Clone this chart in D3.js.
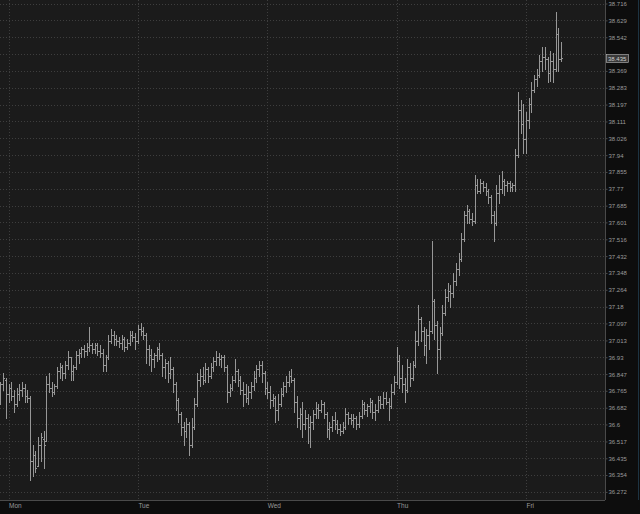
<!DOCTYPE html>
<html>
<head>
<meta charset="utf-8">
<script src="https://cdnjs.cloudflare.com/ajax/libs/d3/7.8.5/d3.min.js"></script>
<style>
  html, body { margin: 0; padding: 0; background: #0d0d0d; overflow: hidden; }
  svg { display: block; }
  .axis text { fill: #9a9a9a; font-family: "Liberation Sans", Arial, sans-serif; }
  .axis path, .axis line { stroke: #4a4a4a; }
</style>
</head>
<body>
<div id="chart"></div>
<script>
var width = 640,
    height = 514,
    plotRight = 605,
    plotBottom = 500;

// 30 minute bars, first one Sunday evening
var barStart = new Date(2021, 1, 28, 22, 30);
var barMinutes = 30;

var dayLabels = ["Mon", "Tue", "Wed", "Thu", "Fri"];
var dayStarts = [new Date(2021, 2, 1), new Date(2021, 2, 2), new Date(2021, 2, 3), new Date(2021, 2, 4), new Date(2021, 2, 5)];

var priceTicks = [38.716, 38.629, 38.542, 38.455, 38.369, 38.283, 38.197, 38.111, 38.026, 37.94,
    37.855, 37.77, 37.685, 37.601, 37.516, 37.432, 37.348, 37.264, 37.18, 37.097,
    37.013, 36.93, 36.847, 36.765, 36.682, 36.6, 36.517, 36.435, 36.354, 36.272];

var lastPrice = 38.435;

var opens = [
    36.75,36.80,36.82,36.75,36.78,36.74,36.70,36.75,36.77,36.78,
    36.74,36.73,36.42,36.45,36.40,36.50,36.53,36.52,36.80,36.78,
    36.76,36.79,36.86,36.88,36.85,36.89,36.93,36.86,36.88,36.94,
    36.95,36.97,36.96,36.98,36.99,36.97,36.99,36.96,36.95,36.89,
    36.93,37.01,37.04,37.02,37.01,37.00,37.02,36.98,37.00,37.04,
    37.03,37.01,37.07,37.06,37.04,36.97,36.94,36.92,36.94,36.97,
    36.94,36.88,36.90,36.85,36.87,36.80,36.72,36.65,36.59,36.57,
    36.60,36.50,36.59,36.70,36.82,36.84,36.82,36.87,36.84,36.88,
    36.91,36.93,36.92,36.93,36.88,36.76,36.78,36.82,36.86,36.82,
    36.77,36.75,36.73,36.76,36.79,36.83,36.87,36.89,36.85,36.78,
    36.76,36.72,36.73,36.67,36.70,36.75,36.79,36.81,36.84,36.82,
    36.71,36.63,36.65,36.60,36.63,36.59,36.61,36.65,36.68,36.67,
    36.70,36.65,36.58,36.59,36.62,36.60,36.58,36.57,36.59,36.65,
    36.63,36.62,36.63,36.60,36.64,36.70,36.67,36.69,36.71,36.66,
    36.67,36.72,36.70,36.73,36.71,36.69,36.76,36.81,36.91,36.83,
    36.80,36.77,36.88,36.83,36.89,37.01,37.12,37.06,36.99,37.04,
    37.06,37.21,37.09,36.97,37.05,37.15,37.23,37.26,37.25,37.31,
    37.37,37.42,37.52,37.64,37.66,37.62,37.61,37.79,37.76,37.80,
    37.78,37.76,37.73,37.64,37.60,37.75,37.77,37.81,37.79,37.80,
    37.78,37.79,37.94,38.17,38.10,38.02,38.12,38.20,38.27,38.33,
    38.35,38.42,38.44,38.43,38.36,38.42,38.38,38.56,38.43];

var highs = [
    36.81,36.85,36.83,36.80,36.81,36.77,36.78,36.80,36.81,36.80,
    36.77,36.74,36.50,36.47,36.54,36.56,36.57,36.84,36.85,36.81,
    36.80,36.88,36.90,36.89,36.91,36.96,36.93,36.89,36.96,36.97,
    36.98,36.99,37.00,37.08,37.00,37.00,37.00,36.99,36.97,36.94,
    37.04,37.07,37.06,37.04,37.03,37.04,37.03,37.02,37.06,37.06,
    37.05,37.09,37.10,37.08,37.05,36.99,36.97,36.95,36.98,37.00,
    36.95,36.92,36.91,36.93,36.88,36.81,36.73,36.66,36.61,36.63,
    36.61,36.63,36.73,36.85,36.87,36.88,36.90,36.88,36.90,36.93,
    36.96,36.95,36.94,36.94,36.89,36.80,36.84,36.92,36.87,36.84,
    36.81,36.80,36.79,36.81,36.86,36.89,36.91,36.91,36.86,36.81,
    36.79,36.75,36.74,36.75,36.78,36.81,36.84,36.86,36.87,36.83,
    36.74,36.68,36.71,36.67,36.65,36.64,36.67,36.71,36.70,36.72,
    36.71,36.66,36.61,36.64,36.66,36.62,36.60,36.61,36.68,36.66,
    36.65,36.65,36.64,36.66,36.72,36.71,36.70,36.73,36.72,36.70,
    36.74,36.74,36.76,36.76,36.73,36.80,36.84,36.98,36.94,36.89,
    36.83,36.92,36.90,36.91,37.06,37.19,37.13,37.08,37.07,37.11,
    37.51,37.22,37.11,37.08,37.19,37.27,37.30,37.29,37.35,37.40,
    37.45,37.55,37.66,37.69,37.67,37.65,37.84,37.82,37.82,37.81,
    37.80,37.77,37.74,37.66,37.79,37.84,37.86,37.82,37.81,37.81,
    37.80,37.97,38.26,38.22,38.20,38.16,38.23,38.31,38.35,38.38,
    38.45,38.49,38.49,38.44,38.47,38.46,38.67,38.59,38.52];

var lows = [
    36.70,36.77,36.63,36.71,36.72,36.66,36.69,36.72,36.74,36.71,
    36.71,36.33,36.35,36.37,36.40,36.42,36.39,36.52,36.76,36.74,
    36.75,36.78,36.83,36.82,36.83,36.87,36.82,36.82,36.87,36.90,
    36.93,36.93,36.94,36.96,36.95,36.95,36.94,36.93,36.86,36.86,
    36.92,37.00,36.99,36.99,36.98,36.97,36.96,36.97,36.99,37.01,
    36.97,37.00,37.04,37.02,36.90,36.89,36.86,36.88,36.91,36.92,
    36.84,36.83,36.81,36.83,36.76,36.67,36.61,36.55,36.50,36.54,
    36.45,36.49,36.58,36.69,36.79,36.80,36.81,36.81,36.83,36.86,
    36.89,36.89,36.88,36.86,36.71,36.74,36.77,36.81,36.79,36.75,
    36.69,36.71,36.70,36.73,36.77,36.81,36.84,36.81,36.75,36.73,
    36.68,36.69,36.61,36.62,36.69,36.74,36.76,36.79,36.81,36.66,
    36.59,36.58,36.54,36.58,36.51,36.49,36.58,36.63,36.63,36.66,
    36.63,36.54,36.53,36.57,36.58,36.56,36.55,36.56,36.58,36.60,
    36.60,36.59,36.58,36.59,36.63,36.65,36.64,36.66,36.63,36.62,
    36.66,36.68,36.68,36.70,36.62,36.68,36.75,36.80,36.78,36.76,
    36.71,36.76,36.79,36.82,36.88,36.99,37.01,36.94,36.90,36.97,
    37.05,37.02,36.85,36.92,37.04,37.14,37.21,37.18,37.23,37.29,
    37.34,37.41,37.51,37.60,37.60,37.59,37.60,37.75,37.75,37.76,
    37.74,37.70,37.60,37.51,37.59,37.70,37.75,37.74,37.76,37.76,
    37.76,37.76,37.93,38.05,37.95,37.95,38.08,38.16,38.26,38.29,
    38.34,38.37,38.38,38.31,38.32,38.31,38.37,38.37,38.42];

var closes = [
    36.80,36.83,36.75,36.78,36.74,36.70,36.75,36.77,36.78,36.74,
    36.73,36.42,36.45,36.39,36.50,36.54,36.50,36.80,36.78,36.76,
    36.79,36.86,36.88,36.85,36.89,36.93,36.86,36.88,36.94,36.95,
    36.97,36.96,36.98,36.99,36.97,36.99,36.96,36.95,36.89,36.93,
    37.01,37.04,37.02,37.01,37.00,37.02,36.98,37.00,37.04,37.03,
    37.01,37.07,37.06,37.04,36.97,36.94,36.92,36.94,36.97,36.94,
    36.88,36.90,36.85,36.87,36.80,36.72,36.65,36.59,36.57,36.60,
    36.50,36.59,36.70,36.82,36.84,36.82,36.87,36.84,36.88,36.91,
    36.93,36.92,36.93,36.88,36.76,36.78,36.82,36.86,36.82,36.77,
    36.75,36.73,36.76,36.79,36.83,36.87,36.89,36.85,36.78,36.76,
    36.72,36.73,36.67,36.70,36.75,36.79,36.81,36.84,36.82,36.71,
    36.63,36.65,36.60,36.63,36.59,36.61,36.65,36.68,36.67,36.70,
    36.65,36.58,36.59,36.62,36.60,36.58,36.57,36.59,36.65,36.63,
    36.62,36.63,36.60,36.64,36.70,36.67,36.69,36.71,36.66,36.67,
    36.72,36.70,36.73,36.71,36.69,36.76,36.81,36.91,36.83,36.80,
    36.77,36.88,36.83,36.89,37.01,37.12,37.06,36.99,37.04,37.06,
    37.21,37.09,36.97,37.05,37.15,37.23,37.26,37.25,37.31,37.37,
    37.42,37.52,37.64,37.66,37.62,37.61,37.79,37.76,37.80,37.78,
    37.76,37.73,37.64,37.60,37.75,37.77,37.81,37.79,37.80,37.78,
    37.79,37.94,38.17,38.10,38.02,38.12,38.20,38.27,38.33,38.35,
    38.42,38.44,38.43,38.36,38.42,38.38,38.56,38.43,38.435];

var bars = opens.map(function(o, i) {
    return {
        time: d3.timeMinute.offset(barStart, i * barMinutes),
        open: o, high: highs[i], low: lows[i], close: closes[i]
    };
});

var svg = d3.select("#chart").append("svg")
    .attr("width", width)
    .attr("height", height);

svg.append("rect")
    .attr("width", width)
    .attr("height", height)
    .attr("fill", "#0d0d0d");

svg.append("rect")
    .attr("width", plotRight)
    .attr("height", plotBottom)
    .attr("fill", "#1b1b1b");

var x = d3.scaleTime()
    .domain([new Date(2021, 1, 28, 22, 25), new Date(2021, 2, 5, 14, 40)])
    .range([0, plotRight]);

var y = d3.scaleLog()
    .domain([36.272, 38.716])
    .range([491.9, 3.5]);

var tagY = Math.round(y(lastPrice));

// dotted grid
svg.append("g").selectAll("line")
    .data(priceTicks)
    .enter().append("line")
    .attr("x1", 0)
    .attr("x2", plotRight)
    .attr("y1", function(d) { return Math.round(y(d)) + 0.5; })
    .attr("y2", function(d) { return Math.round(y(d)) + 0.5; })
    .attr("stroke", "#3e3e3e")
    .attr("stroke-dasharray", "1,2");

svg.append("g").selectAll("line")
    .data(dayStarts)
    .enter().append("line")
    .attr("x1", function(d) { return Math.round(x(d)) + 0.5; })
    .attr("x2", function(d) { return Math.round(x(d)) + 0.5; })
    .attr("y1", 0)
    .attr("y2", plotBottom)
    .attr("stroke", "#3e3e3e")
    .attr("stroke-dasharray", "1,2");

// OHLC bars, 1px open tick left, close tick right
svg.append("g").selectAll("path")
    .data(bars)
    .enter().append("path")
    .attr("d", function(d) {
        var cx = Math.round(x(d.time)) + 0.5;
        var yo = Math.round(y(d.open)) + 0.5,
            yc = Math.round(y(d.close)) + 0.5;
        return "M" + cx + "," + Math.round(y(d.high)) + "V" + (Math.round(y(d.low)) + 1) +
            "M" + (cx - 1.5) + "," + yo + "H" + (cx - 0.5) +
            "M" + (cx + 0.5) + "," + yc + "H" + (cx + 1.5);
    })
    .attr("fill", "none")
    .attr("stroke", "#979797")
    .attr("stroke-width", 1);

// axes (the label under the price tag is hidden, as in the original)
var yAxis = svg.append("g")
    .attr("class", "axis")
    .attr("transform", "translate(" + (plotRight + 0.5) + ",0)")
    .call(d3.axisRight(y)
        .tickValues(priceTicks.filter(function(d) { return Math.abs(y(d) - tagY) > 6; }))
        .tickFormat(function(d) { return d; })
        .tickSize(2)
        .tickPadding(1));
yAxis.select(".domain").attr("d", "M0,0V" + plotBottom);
yAxis.selectAll("text").style("font-size", "6px");

var xAxis = svg.append("g")
    .attr("class", "axis")
    .attr("transform", "translate(0," + (plotBottom + 0.5) + ")")
    .call(d3.axisBottom(x)
        .tickValues(dayStarts)
        .tickFormat(function(d, i) { return dayLabels[i]; })
        .tickSize(0)
        .tickPadding(3));
xAxis.select(".domain").attr("d", "M0,0H" + plotRight);
xAxis.selectAll("text")
    .attr("text-anchor", "start")
    .style("font-size", "6.5px");

// last price tag
svg.append("rect")
    .attr("x", plotRight + 1.5)
    .attr("y", tagY - 3.5)
    .attr("width", 22)
    .attr("height", 8)
    .attr("fill", "#3a3a3a")
    .attr("stroke", "#bdbdbd")
    .attr("stroke-width", 0.6);
svg.append("text")
    .attr("x", plotRight + 3)
    .attr("y", tagY + 2.5)
    .attr("fill", "#d0d0d0")
    .style("font-family", "Liberation Sans, Arial, sans-serif")
    .style("font-size", "6px")
    .text(lastPrice);

svg.append("line")
    .attr("x1", 638.5).attr("x2", 638.5)
    .attr("y1", 0).attr("y2", plotBottom)
    .attr("stroke", "#1d3342");
</script>
</body>
</html>
